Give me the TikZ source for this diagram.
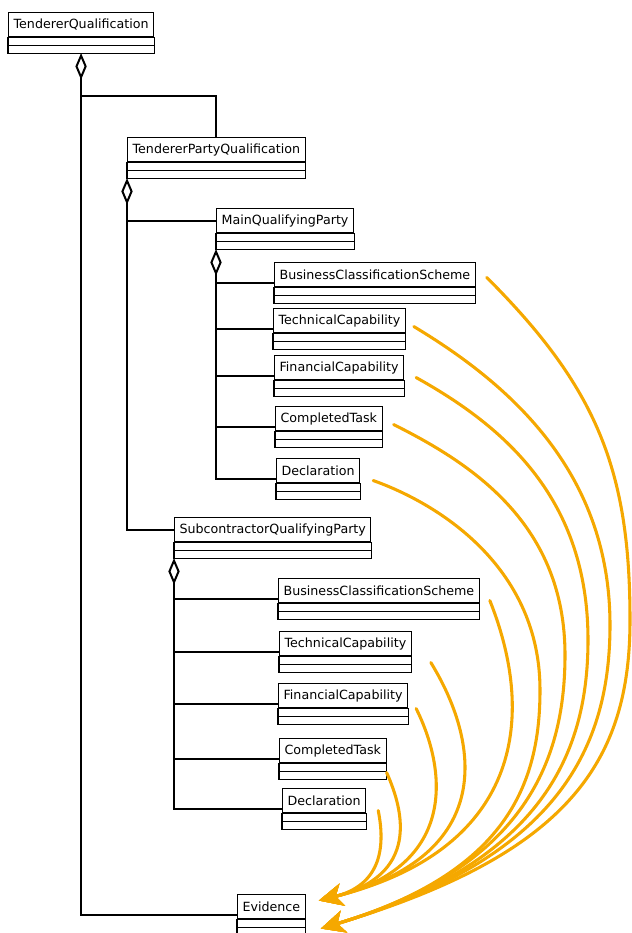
\documentclass[tikz,border=0pt]{standalone}
\usepackage{fontspec}
\setmainfont{DejaVu Sans}
\usetikzlibrary{arrows.meta, calc}

\definecolor{evorange}{RGB}{245,168,0}

\newcommand{\umlclass}[3]{%
  \node[classname] (#1) at (#2) {#3};
  \draw[classbox] (#1.south west) rectangle ([yshift=-12pt]#1.south east);
  \draw[classbox] ([yshift=-6pt]#1.south west) -- ([yshift=-6pt]#1.south east);
  \coordinate (#1-base) at ([yshift=-12pt]#1.south);
  \coordinate (#1-corner) at ([yshift=-12pt]#1.south west);
  \coordinate (#1-link) at ([yshift=3pt]#1.south west);
}

\begin{document}
\begin{tikzpicture}[x=0.75pt, y=-0.75pt,
    classname/.style={draw, line width=0.8pt, anchor=north west, minimum height=18pt,
      inner xsep=3.8pt, inner ysep=0pt, font=\fontsize{9.5}{11}\selectfont},
    classbox/.style={line width=0.8pt},
    aggr/.style={line width=1.5pt, {Diamond[open, length=20pt, width=8.5pt]}-},
    link/.style={line width=1.5pt},
    evid/.style={draw=evorange, line width=2.3pt, line cap=round,
      -{Stealth[length=18pt, width=17pt, inset=5pt]}}]
\useasboundingbox (0,0) rectangle (632,933);

\umlclass{tq}{8,12}{TendererQualification}
\umlclass{tpq}{127,137}{TendererPartyQualification}
\umlclass{mqp}{216,208}{MainQualifyingParty}
\umlclass{mbcs}{274,262}{BusinessClassificationScheme}
\umlclass{mtc}{273,308}{TechnicalCapability}
\umlclass{mfc}{274,355}{FinancialCapability}
\umlclass{mct}{275,406}{CompletedTask}
\umlclass{mdecl}{276,458}{Declaration}
\umlclass{sqp}{174,517}{SubcontractorQualifyingParty}
\umlclass{sbcs}{278,578}{BusinessClassificationScheme}
\umlclass{stc}{279,631}{TechnicalCapability}
\umlclass{sfc}{278,683}{FinancialCapability}
\umlclass{sct}{279,738}{CompletedTask}
\umlclass{sdecl}{282,788}{Declaration}
\umlclass{ev}{237,894}{Evidence}

\draw[aggr] (tq-base) |- (ev-link);
\draw[link] ([yshift=-32pt]tq-base) -| (tpq.north);
\draw[aggr] (tpq-corner) |- (sqp.west);
\draw[link] (tpq-corner |- mqp.west) -- (mqp.west);
\draw[aggr] (mqp-corner) |- (mdecl-link);
\foreach \c in {mbcs, mtc, mfc, mct}
  \draw[link] (mqp-corner |- \c-link) -- (\c-link);
\draw[aggr] (sqp-corner) |- (sdecl-link);
\foreach \c in {sbcs, stc, sfc, sct}
  \draw[link] (sqp-corner |- \c-link) -- (\c-link);

\coordinate (ev-in1) at ([shift={(13,-6)}]ev.east);
\coordinate (ev-in2) at ([shift={(15,22)}]ev.east);

\draw[evid] ([shift={(11,3)}]mbcs.east) .. controls +(110,110) and +(0,-150) .. (630,620)
  .. controls +(0,140) and +(250,-75) .. (ev-in2);
\draw[evid] ([shift={(8,6)}]mtc.east) .. controls +(100,60) and +(0,-150) .. (610,625)
  .. controls +(0,130) and +(230,-69) .. (ev-in2);
\draw[evid] ([shift={(12,10)}]mfc.east) .. controls +(90,50) and +(0,-140) .. (588,640)
  .. controls +(0,120) and +(215,-64.5) .. (ev-in2);
\draw[evid] ([shift={(11,6)}]mct.east) .. controls +(80,40) and +(0,-130) .. (565,655)
  .. controls +(0,110) and +(200,-60) .. (ev-in2);
\draw[evid] ([shift={(13,10)}]mdecl.east) .. controls +(70,25) and +(0,-120) .. (540,690)
  .. controls +(0,95) and +(185,-55.5) .. (ev-in2);

\draw[evid] ([shift={(10,10)}]sbcs.east) .. controls +(48,120) and +(200,-50) .. (ev-in1);
\draw[evid] ([shift={(19,19)}]stc.east) .. controls +(48,78) and +(180,-45) .. (ev-in1);
\draw[evid] ([shift={(8,13)}]sfc.east) .. controls +(30,60) and +(140,-35) .. (ev-in1);
\draw[evid] ([shift={(0,22)}]sct.east) .. controls +(18,40) and +(100,-25) .. (ev-in1);
\draw[evid] ([shift={(12,10)}]sdecl.east) .. controls +(8,40) and +(60,-15) .. (ev-in1);
\end{tikzpicture}
\end{document}
